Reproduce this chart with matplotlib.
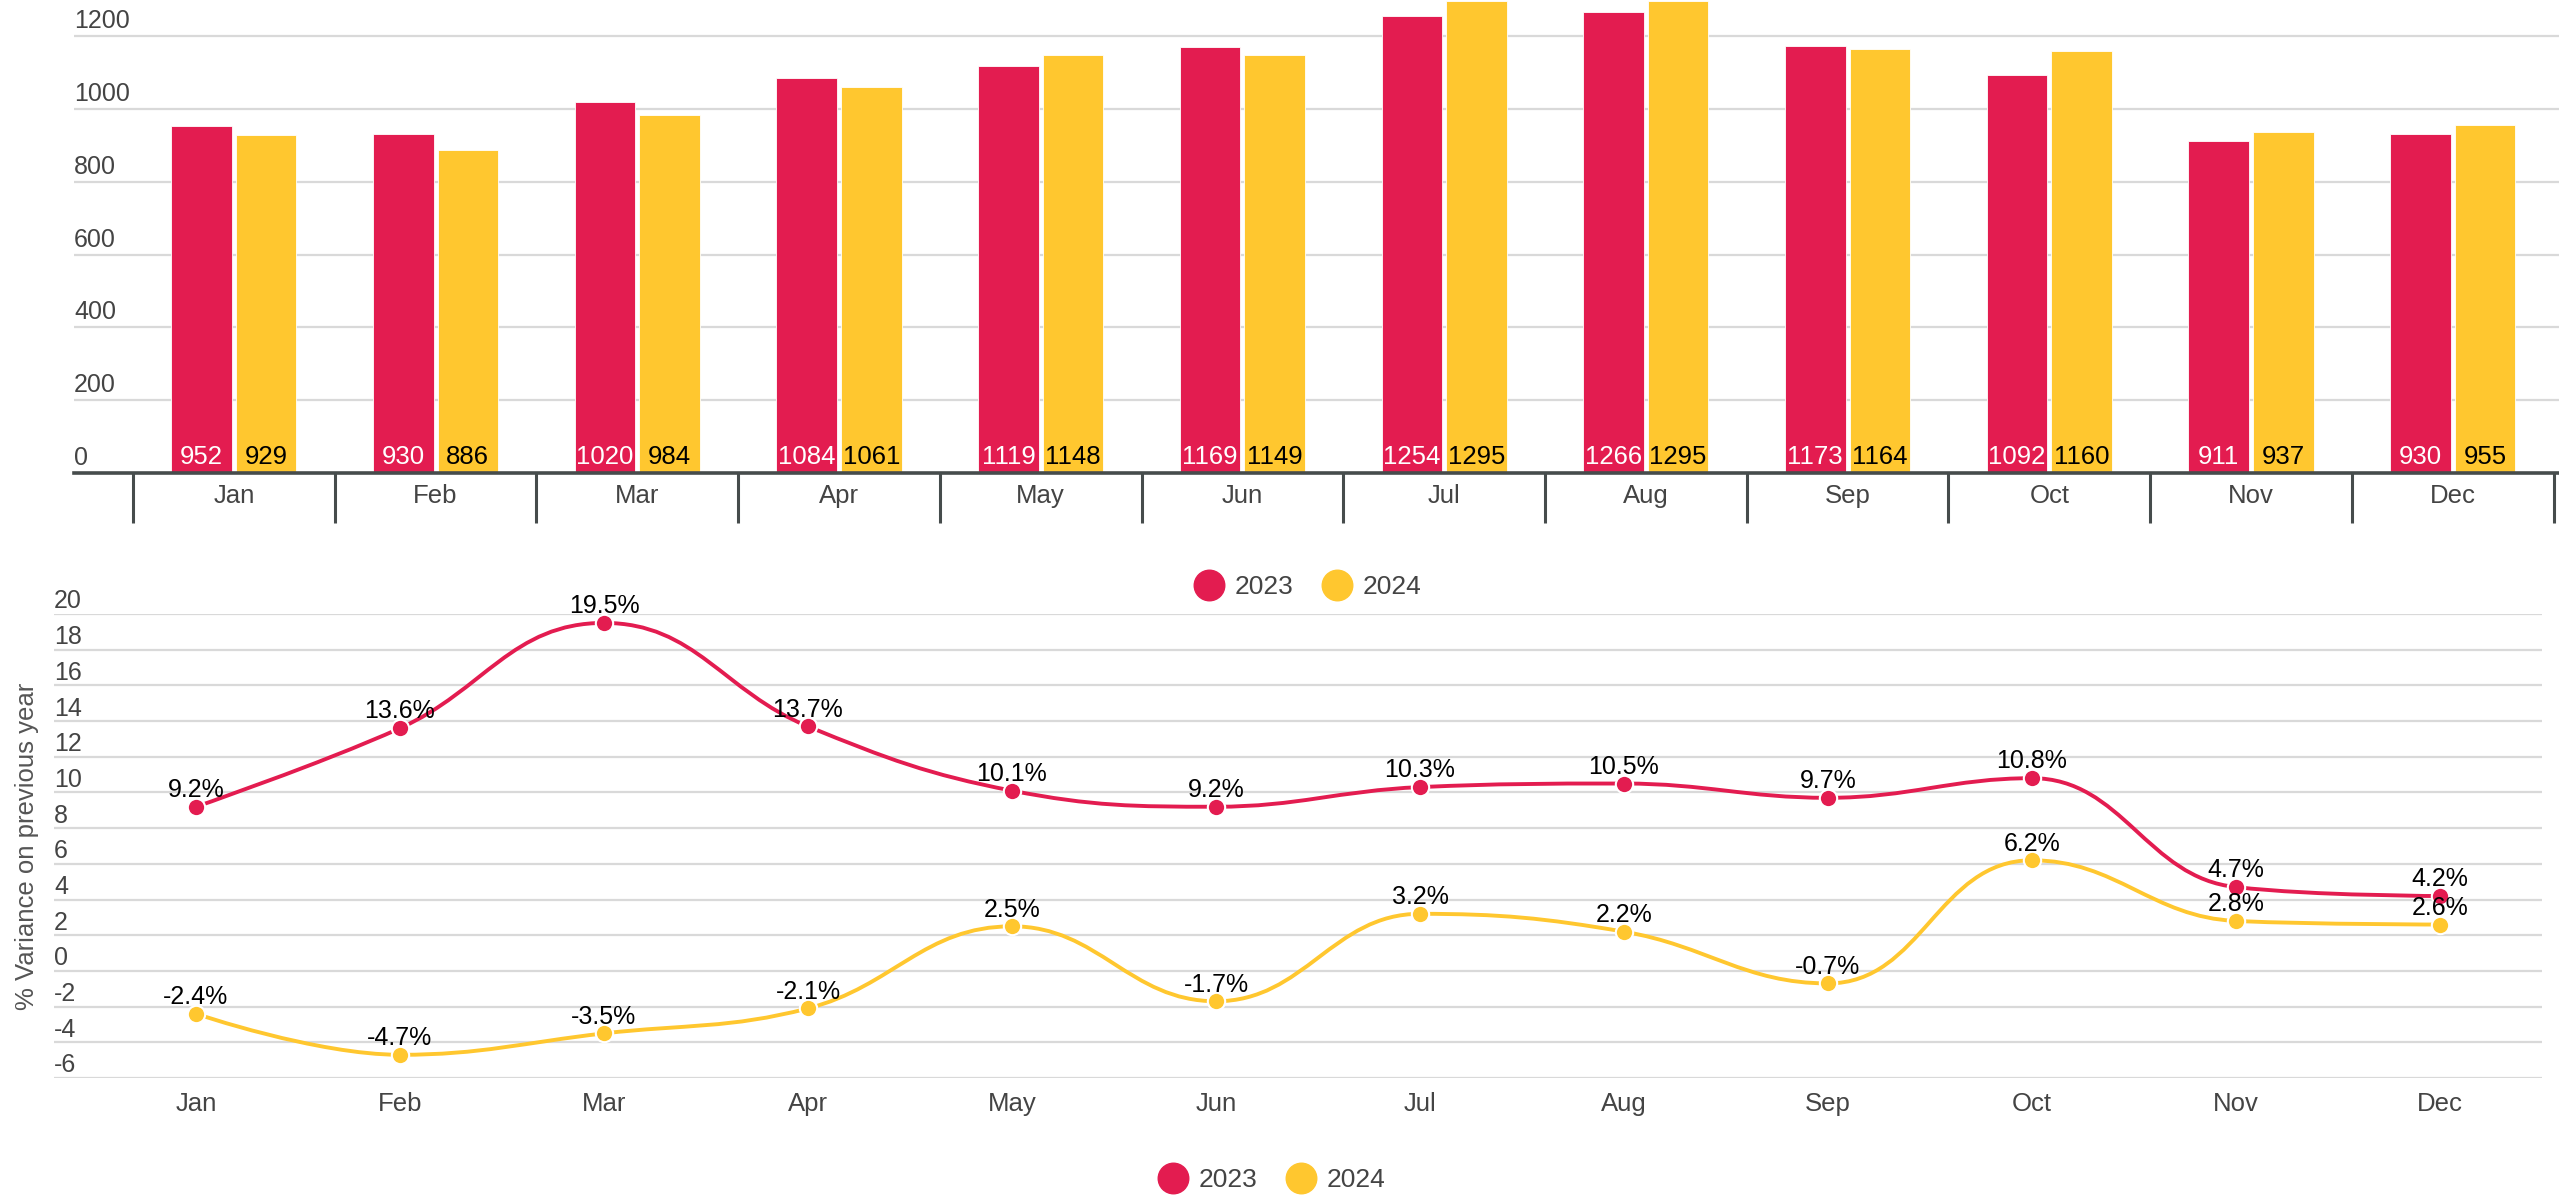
import matplotlib.pyplot as plt
from matplotlib.path import Path
from matplotlib.patches import PathPatch
from matplotlib.lines import Line2D
from matplotlib.transforms import blended_transform_factory
import numpy as np
import math

plt.rcParams['font.family'] = ['Liberation Sans', 'DejaVu Sans']

# data
months = ['Jan', 'Feb', 'Mar', 'Apr', 'May', 'Jun',
          'Jul', 'Aug', 'Sep', 'Oct', 'Nov', 'Dec']
years = ['2023', '2024']
units_2023 = [952, 930, 1020, 1084, 1119, 1169, 1254, 1266, 1173, 1092, 911, 930]
units_2024 = [929, 886, 984, 1061, 1148, 1149, 1295, 1295, 1164, 1160, 937, 955]
var_2023 = [9.2, 13.6, 19.5, 13.7, 10.1, 9.2, 10.3, 10.5, 9.7, 10.8, 4.7, 4.2]
var_2024 = [-2.4, -4.7, -3.5, -2.1, 2.5, -1.7, 3.2, 2.2, -0.7, 6.2, 2.8, 2.6]
bar_ticks = [0, 200, 400, 600, 800, 1000, 1200]
var_ticks = [-6, -4, -2, 0, 2, 4, 6, 8, 10, 12, 14, 16, 18, 20]

RED = '#e31c50'
YELLOW = '#ffc72f'
GRID = '#d9d9d9'
AXIS = '#464c4c'
LABEL = '#444444'

W, H = 2559, 1195
fig = plt.figure(figsize=(W / 100, H / 100), dpi=100)


def px_box(x, y, w, h):
    # pixel box (top-left origin) -> figure fraction
    return [x / W, 1 - (y + h) / H, w / W, h / H]


# ---------------- upper bar chart ----------------
ax1 = fig.add_axes(px_box(74, 0, W - 74, 473))
ax1.set_xlim(-0.7925, 11.527)
ax1.set_ylim(0, 1299)
ax1.axis('off')
upx = 1299 / 473  # data units per pixel (y)

for v in bar_ticks[1:]:
    ax1.axhline(v, color=GRID, lw=1.6, zorder=0)
tr1 = blended_transform_factory(ax1.transAxes, ax1.transData)
for v in bar_ticks:
    ax1.text(0, v + 8 * upx, str(v), transform=tr1, ha='left', va='baseline',
             fontsize=18, color=LABEL)

x = np.arange(len(months))
bw = 0.30
off = 0.16
ax1.bar(x - off, units_2023, bw, color=RED, edgecolor='white', lw=0.6, zorder=2)
ax1.bar(x + off, units_2024, bw, color=YELLOW, edgecolor='white', lw=0.6, zorder=2)
for i in range(len(months)):
    ax1.text(x[i] - off, 9 * upx, str(units_2023[i]), ha='center', va='baseline',
             fontsize=18.5, color='white', zorder=4)
    ax1.text(x[i] + off, 9 * upx, str(units_2024[i]), ha='center', va='baseline',
             fontsize=18.5, color='black', zorder=4)
    ax1.text(x[i], -23 * upx, months[i], ha='center', va='center',
             fontsize=18.5, color=LABEL)

ax1.axhline(0, color=AXIS, lw=2.6, zorder=5, clip_on=False)
ax1.vlines(np.arange(-0.5, 12, 1), -50 * upx, 0, color=AXIS, lw=2.2,
           clip_on=False, zorder=5)

# ---------------- lower spline chart ----------------
ax2 = fig.add_axes(px_box(54, 614, 2488, 464))
ax2.set_xlim(-0.696, 11.5)
ax2.set_ylim(-6, 20)
ax2.axis('off')
lpx = 26 / 464

for v in var_ticks:
    ax2.axhline(v, color=GRID, lw=1.6, zorder=0)
tr2 = blended_transform_factory(ax2.transAxes, ax2.transData)
for v in var_ticks:
    ax2.text(0, v + 5.5 * lpx, str(v), transform=tr2, ha='left', va='baseline',
             fontsize=18, color=LABEL)
for i, m in enumerate(months):
    ax2.text(i, -6 - 26 * lpx, m, ha='center', va='center',
             fontsize=18.5, color=LABEL)

fig.text(27 / W, 1 - 846 / H, '% Variance on previous year', rotation=90,
         ha='center', va='center', fontsize=18.5, color='#555555')


def spline_path(ax, xs, ys, sm=1.5):
    # Highcharts-style spline control points, worked out in display pixels
    pts = ax.transData.transform(np.column_stack([xs, ys]))
    n = len(pts)
    verts = [tuple(pts[0])]
    codes = [Path.MOVETO]
    right_prev = tuple(pts[0])
    for i in range(1, n):
        px_, py_ = pts[i]
        lx, ly = pts[i - 1]
        if i < n - 1:
            nx, ny = pts[i + 1]
            lcx = (sm * px_ + lx) / (sm + 1)
            lcy = (sm * py_ + ly) / (sm + 1)
            rcx = (sm * px_ + nx) / (sm + 1)
            rcy = (sm * py_ + ny) / (sm + 1)
            dl = math.hypot(lcx - px_, lcy - py_)
            dr = math.hypot(rcx - px_, rcy - py_)
            la = math.atan2(lcy - py_, lcx - px_)
            ra = math.atan2(rcy - py_, rcx - px_)
            ja = math.pi / 2 + (la + ra) / 2
            if abs(la - ja) > math.pi / 2:
                ja -= math.pi
            lcx = px_ + math.cos(ja) * dl
            lcy = py_ + math.sin(ja) * dl
            rcx = px_ + math.cos(math.pi + ja) * dr
            rcy = py_ + math.sin(math.pi + ja) * dr
            if lcy > py_ and lcy > ly:
                lcy = max(ly, py_)
                rcy = 2 * py_ - lcy
            elif lcy < py_ and lcy < ly:
                lcy = min(ly, py_)
                rcy = 2 * py_ - lcy
            if rcy > py_ and rcy > ny:
                rcy = max(py_, ny)
                lcy = 2 * py_ - rcy
            elif rcy < py_ and rcy < ny:
                rcy = min(py_, ny)
                lcy = 2 * py_ - rcy
            left, right = (lcx, lcy), (rcx, rcy)
        else:
            left = right = (px_, py_)
        verts += [right_prev, left, (px_, py_)]
        codes += [Path.CURVE4] * 3
        right_prev = right
    verts = ax.transData.inverted().transform(np.array(verts))
    return Path(verts, codes)


for vals, col in [(var_2024, YELLOW), (var_2023, RED)]:
    ax2.add_patch(PathPatch(spline_path(ax2, x, vals), facecolor='none',
                            edgecolor=col, lw=2.8, zorder=3, clip_on=False))
    ax2.plot(x, vals, 'o', ms=12.5, mfc=col, mec='white', mew=1.5,
             zorder=4, clip_on=False)
    for i, v in enumerate(vals):
        ax2.annotate(f'{v}%', (x[i], v), xytext=(0, 7), textcoords='offset points',
                     ha='center', va='baseline', fontsize=18, color='black',
                     zorder=6, annotation_clip=False)

# ---------------- legends ----------------
handles = [Line2D([], [], marker='o', ls='none', ms=22, mfc=c, mec=c, mew=1)
           for c in (RED, YELLOW)]
for cx, cy in [(1307, 587), (1271, 1180)]:
    fig.legend(handles, years, loc='center', bbox_to_anchor=(cx / W, 1 - cy / H),
               ncol=2, frameon=False, fontsize=19, labelcolor=LABEL,
               handlelength=1.25, handletextpad=0.35, columnspacing=1.05)

fig.savefig('out.png', dpi=100)
